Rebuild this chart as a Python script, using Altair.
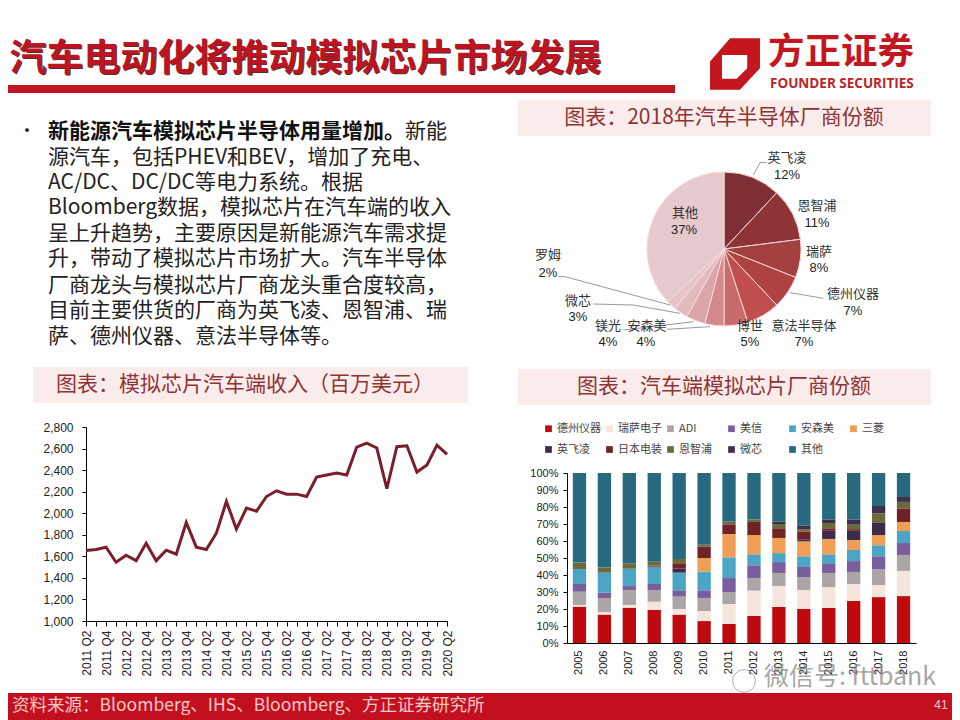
import altair as alt
import pandas as pd

FONT = "Noto Sans CJK SC"
LATIN = "Liberation Sans"

# ---- line chart values
quarters = ["2011 Q2","2011 Q3","2011 Q4","2012 Q1","2012 Q2","2012 Q3","2012 Q4","2013 Q1","2013 Q2","2013 Q3",
            "2013 Q4","2014 Q1","2014 Q2","2014 Q3","2014 Q4","2015 Q1","2015 Q2","2015 Q3","2015 Q4","2016 Q1",
            "2016 Q2","2016 Q3","2016 Q4","2017 Q1","2017 Q2","2017 Q3","2017 Q4","2018 Q1","2018 Q2","2018 Q3",
            "2018 Q4","2019 Q1","2019 Q2","2019 Q3","2019 Q4","2020 Q1","2020 Q2"]
revenue = [1655,1663,1685,1545,1610,1560,1722,1560,1657,1620,1914,1685,1663,1815,2110,1852,2047,2019,2155,2208,
           2177,2177,2155,2335,2354,2372,2354,2614,2650,2605,2227,2617,2626,2382,2447,2632,2546]

# ---- pie values
pie_names = ["英飞凌","恩智浦","瑞萨","德州仪器","意法半导体","博世","安森美","镁光","微芯","罗姆","其他"]
pie_values = [12,11,8,7,7,5,4,4,3,2,37]
pie_colors = ["#7F2F33","#8E3336","#A33F3F","#AE4342","#C04E4E","#C96A6C","#D28A8D","#DBA6A9","#E3BBBE","#E5C3C7","#E5C9CD"]

# ---- stacked bars: running top of each vendor, per year (%)
years = ["2005","2006","2007","2008","2009","2010","2011","2012","2013","2014","2015","2016","2017","2018"]
top_ti        = [21.4,16.7,20.8,19.4,16.7,12.9,11.2,15.9,21.2,20.0,20.6,24.7,27.0,27.6]
top_renesas   = [22.4,18.2,22.4,24.3,20.0,18.8,22.9,30.8,33.5,31.2,32.9,34.7,34.1,42.4]
top_adi       = [30.2,26.5,31.2,31.2,27.3,26.5,30.0,38.2,41.2,38.8,41.2,41.8,43.5,51.8]
top_maxim     = [34.7,29.6,33.5,34.7,31.0,31.0,38.2,45.7,47.6,44.7,46.5,48.2,51.0,58.8]
top_onsemi    = [43.5,41.4,43.7,44.9,41.4,42.0,50.4,52.2,52.9,51.0,52.2,54.7,57.5,65.9]
top_mitsu     = [43.5,41.4,43.7,44.9,41.4,50.0,64.1,63.5,61.8,59.8,61.2,60.6,63.5,71.2]
top_infineon  = [43.5,41.4,43.7,44.9,43.9,50.0,64.1,63.5,61.8,61.0,66.0,66.0,71.0,71.2]
top_denso     = [43.5,41.4,43.7,45.5,46.9,56.7,69.8,71.2,67.5,65.5,67.5,67.0,71.0,79.2]
top_nxp       = [47.3,44.5,46.9,47.8,49.4,58.0,71.4,72.7,70.0,66.9,70.6,69.6,76.3,83.0]
top_microchip = [47.3,44.5,46.9,47.8,49.4,58.0,71.4,72.7,71.4,69.2,72.7,72.7,80.6,85.9]
top_other     = [100]*14
vendors = ["德州仪器","瑞萨电子","ADI","美信","安森美","三菱","英飞凌","日本电装","恩智浦","微芯","其他"]
vendor_colors = ["#BE0A0F","#F6E5DC","#ABA5A6","#7A5D9C","#4CA5C5","#EE9E55","#3D2C48","#6F2326","#6C6A3C","#3F2F4D","#27697F"]
vendor_tops = [top_ti,top_renesas,top_adi,top_maxim,top_onsemi,top_mitsu,top_infineon,top_denso,top_nxp,top_microchip,top_other]

# ---- page text
slide_title = "汽车电动化将推动模拟芯片市场发展"
bold_lead = "新能源汽车模拟芯片半导体用量增加。"
body_lines = ["新能",
              "源汽车，包括PHEV和BEV，增加了充电、",
              "AC/DC、DC/DC等电力系统。根据",
              "Bloomberg数据，模拟芯片在汽车端的收入",
              "呈上升趋势，主要原因是新能源汽车需求提",
              "升，带动了模拟芯片市场扩大。汽车半导体",
              "厂商龙头与模拟芯片厂商龙头重合度较高，",
              "目前主要供货的厂商为英飞凌、恩智浦、瑞",
              "萨、德州仪器、意法半导体等。"]
body_y = [132,158,183,208,234,259,286,311,337]
source_text = "资料来源：Bloomberg、IHS、Bloomberg、方正证券研究所"

ONE = pd.DataFrame({"a": [0]})


def text(s, x, y, size, color="#222222", font=FONT, weight="normal", align="center", **kw):
    return alt.Chart(pd.DataFrame({"t": [s]})).mark_text(
        font=font, fontSize=size, color=color, fontWeight=weight, align=align, baseline="middle", **kw
    ).encode(x=alt.value(x - 8), y=alt.value(y - 8), text="t:N")


def box(x0, y0, x1, y1, color):
    return alt.Chart(ONE).mark_rect(color=color, strokeWidth=0).encode(
        x=alt.value(x0 - 8), x2=alt.value(x1 - 8), y=alt.value(y0 - 8), y2=alt.value(y1 - 8))


layers = []
# header
layers += [text(slide_title, 10.5, 60.5, 37, color="#5E2A2C", weight="bold", align="left"),
           text(slide_title, 9.5, 59.5, 37, color="#BC1420", weight="bold", align="left"),
           box(0, 85, 675, 93, "#BE1622")]
# logo
LOGO = "M-.19 -.99L.96 -.99L.96 .16L.19 .99L-.96 .99L-.96 -.10Z M-.5 -.35L-.5 .57L.06 .57L.47 .16L.47 -.35Z"
layers += [alt.Chart(ONE).mark_point(shape=LOGO, filled=True, size=2704, color="#C4161F", opacity=1, strokeWidth=0)
           .encode(x=alt.value(735 - 8), y=alt.value(64 - 8)),
           text("方正证券", 768, 53, 36.5, color="#C4161F", weight="bold", align="left"),
           text("FOUNDER SECURITIES", 770, 84, 13.5, color="#B9252B", font="Open Sans", weight="bold", align="left")]

# body text
layers += [text("•", 18, 132, 18, align="left"),
           text(bold_lead, 48, 132, 21, color="#111111", weight="bold", align="left"),
           text(body_lines[0], 405, 132, 21, align="left")]
for line, yy in zip(body_lines[1:], body_y[1:]):
    layers.append(text(line, 48, yy, 21, align="left"))

# chart headings
layers += [box(518, 100, 931, 136, "#FBECEC"), text("图表：2018年汽车半导体厂商份额", 724, 118, 21, color="#8F3436"),
           box(33, 367, 468, 403, "#FBECEC"), text("图表：模拟芯片汽车端收入（百万美元）", 245, 385, 21, color="#8F3436"),
           box(518, 369, 931, 405, "#FBECEC"), text("图表：汽车端模拟芯片厂商份额", 724, 387, 21, color="#8F3436")]

# line chart
line_df = pd.DataFrame({"q": quarters, "v": revenue})
layers.append(alt.Chart(line_df).mark_line(color="#7A1E2C", strokeWidth=3).encode(
    x=alt.X("q:N", sort=quarters, scale=alt.Scale(type="point", range=[86 - 8, 447 - 8], padding=0),
            axis=alt.Axis(orient="bottom", offset=-(712 - (621 - 8)), title=None, labelAngle=-90, labelFont=LATIN,
                          labelFontSize=12, labelColor="#222222", domainColor="#000000", tickColor="#000000",
                          tickSize=5, labelAlign="right", labelBaseline="middle", labelPadding=4, grid=False,
                          labelOverlap=False,
                          labelExpr="indexof(datum.label,'Q2')>0||indexof(datum.label,'Q4')>0?datum.label:''")),
    y=alt.Y("v:Q", scale=alt.Scale(domain=[1000, 2800], range=[621 - 8, 427 - 8], nice=False),
            axis=alt.Axis(orient="left", offset=-(86 - 8), title=None, values=list(range(1000, 2801, 200)), format=",.0f",
                          labelFont=LATIN, labelFontSize=12, labelColor="#222222", domainColor="#000000",
                          tickColor="#000000", tickSize=4, grid=False, labelPadding=9))))

# pie
pie_df = pd.DataFrame({"n": pie_names, "v": pie_values, "i": range(len(pie_names))})
layers.append(alt.Chart(pie_df).mark_arc(outerRadius=77, stroke="#F7D9D9", strokeWidth=1).encode(
    theta=alt.Theta("v:Q", stack=True),
    color=alt.Color("n:N", scale=alt.Scale(domain=pie_names, range=pie_colors), legend=None),
    order=alt.Order("i:Q"),
    x=alt.value(724 - 8), y=alt.value(249 - 8)))

# pie leader lines
leaders = {"英飞凌": [(670,75),(690,38),(710,38)], "德州仪器": [(780,428),(880,445)],
           "微芯": [(450,490),(310,465),(190,462)], "罗姆": [(420,465),(105,380),(85,380)],
           "镁光": [(490,515),(280,540)], "安森美": [(540,530),(410,538)]}
rows = [{"k": k, "o": i, "px": 530 + p[0] / 3 - 8, "py": 150 + p[1] / 3 - 8}
        for k, pts in leaders.items() for i, p in enumerate(pts)]
layers.append(alt.Chart(pd.DataFrame(rows)).mark_line(color="#9A9A9A", strokeWidth=1).encode(
    x=alt.X("px:Q", scale=None, axis=None), y=alt.Y("py:Q", scale=None, axis=None),
    detail="k:N", order="o:Q"))

# pie labels
pie_label_pos = {"英飞凌": (787,158,787,175), "恩智浦": (817,206,817,223), "瑞萨": (819,252,819,268),
                 "德州仪器": (853,294,853,311), "意法半导体": (804,326,804,342), "博世": (750,326,750,342),
                 "安森美": (647,326,646,342), "镁光": (608,326,608,342), "微芯": (578,301,578,317),
                 "罗姆": (548,255,548,273), "其他": (685,213,684,230)}
for n, v in zip(pie_names, pie_values):
    a, b, c, d = pie_label_pos[n]
    layers.append(text(n, a, b, 13, color="#333333"))
    layers.append(text(f"{v}%", c, d, 13, color="#222222", font=LATIN))

# stacked bars
rows = []
for vi, (name, tops) in enumerate(zip(vendors, vendor_tops)):
    prev = vendor_tops[vi - 1] if vi else [0] * len(years)
    for yr, t, p in zip(years, tops, prev):
        rows.append({"year": yr, "vendor": name, "share": round(t - p, 1), "idx": vi})
layers.append(alt.Chart(pd.DataFrame(rows)).mark_bar(strokeWidth=0).encode(
    x=alt.X("year:N", sort=years,
            scale=alt.Scale(type="band", range=[567 - 8, 916 - 8], paddingInner=0.466, paddingOuter=0.233),
            axis=alt.Axis(orient="bottom", offset=-(712 - (643 - 8)), title=None, labelAngle=-90, labelFont=LATIN,
                          labelFontSize=11, labelColor="#222222", domainColor="#000000", ticks=False,
                          labelAlign="right", labelBaseline="middle", labelPadding=7, grid=False)),
    y=alt.Y("share:Q", stack="zero", scale=alt.Scale(domain=[0, 100], range=[643 - 8, 473 - 8], nice=False),
            axis=alt.Axis(orient="left", offset=-(567 - 8), title=None, values=list(range(0, 101, 10)),
                          labelExpr="datum.value+'%'", labelFont=LATIN, labelFontSize=11, labelColor="#222222",
                          domainColor="#000000", tickColor="#000000", tickSize=4, grid=False, labelPadding=5)),
    color=alt.Color("vendor:N", sort=vendors, scale=alt.Scale(domain=vendors, range=vendor_colors),
                    legend=alt.Legend(orient="none", legendX=543 - 8, legendY=423 - 8, columns=6, title=None,
                                      direction="horizontal",
                                      symbolType="square", symbolSize=45, symbolStrokeWidth=0, gridAlign="all",
                                      labelFont=FONT, labelFontSize=11, labelColor="#444444", labelOffset=3,
                                      columnPadding=3, rowPadding=9)),
    order=alt.Order("idx:Q")))

# footer
layers += [box(0, 693, 960, 720, "#C3101F"),
           text(source_text, 12, 706, 17.5, color="#F6C8C8", align="left"),
           text("41", 941, 705, 12, color="#F6C8C8", font=LATIN)]

# watermark
layers += [alt.Chart(ONE).mark_point(shape="circle", size=520, color="#8E8E8E", strokeWidth=1, filled=False)
           .encode(x=alt.value(744 - 8), y=alt.value(681 - 8)),
           text("微信号: fttbank", 764, 677, 25, color="#8A8A8A", align="left", opacity=0.75)]

chart = alt.layer(*layers).resolve_scale(
    x="independent", y="independent", color="independent", theta="independent"
).properties(
    width=944, height=712, padding=0,
    autosize=alt.AutoSizeParams(type="none", contains="padding"),
    background="#FFFFFF",
).configure_view(stroke=None)

chart.save("out.html", embed_options={"renderer": "svg", "actions": False})
